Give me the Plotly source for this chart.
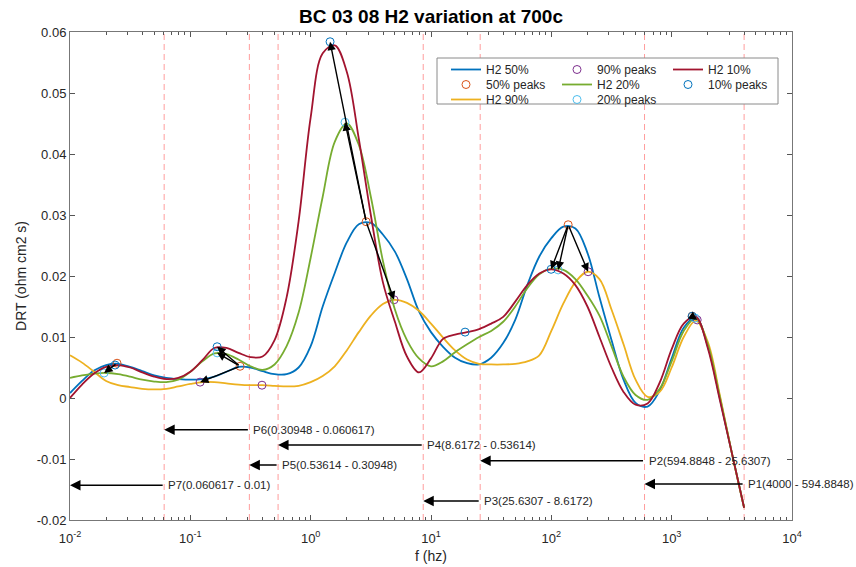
import math
import plotly.graph_objects as go

# ---------------- data ----------------
freq_hz = [0.01, 0.01259, 0.01585, 0.01995, 0.02512, 0.03162, 0.03981, 0.05012, 0.0631, 0.07943,
           0.1, 0.1259, 0.1585, 0.1995, 0.2512, 0.3162, 0.3981, 0.5012, 0.631, 0.7943,
           1.0, 1.259, 1.585, 1.995, 2.512, 3.162, 3.981, 5.012, 6.31, 7.943,
           10.0, 12.59, 15.85, 19.95, 25.12, 31.62, 39.81, 50.12, 63.1, 79.43,
           100.0, 125.9, 158.5, 199.5, 251.2, 316.2, 398.1, 501.2, 631.0, 794.3,
           1000.0, 1259.0, 1585.0, 1995.0, 2512.0, 3162.0, 4000.0]

drt_h2_50 = [0.0008, 0.0028, 0.0045, 0.0054, 0.0056, 0.0051, 0.0044, 0.0037, 0.0033, 0.0031,
             0.0030, 0.0031, 0.0035, 0.0043, 0.0051, 0.0050, 0.0044, 0.0039, 0.0039, 0.0050,
             0.0085, 0.0150, 0.0205, 0.0255, 0.0285, 0.0287, 0.0268, 0.0240, 0.0195, 0.0142,
             0.0108, 0.0084, 0.0066, 0.0057, 0.0055, 0.0066, 0.0090, 0.0128, 0.0185, 0.0232,
             0.0262, 0.0281, 0.0278, 0.0238, 0.0165, 0.0095, 0.0030, -0.0008, -0.0014, 0.0012,
             0.0065, 0.0115, 0.0132, 0.0085, 0.0000, -0.0090, -0.0180]

drt_h2_90 = [0.0070, 0.0058, 0.0043, 0.0028, 0.0021, 0.0018, 0.0015, 0.0014, 0.0015, 0.0019,
             0.0023, 0.0026, 0.0026, 0.0024, 0.0022, 0.0021, 0.0021, 0.0020, 0.0019, 0.0020,
             0.0026, 0.0036, 0.0052, 0.0078, 0.0108, 0.0135, 0.0154, 0.0161, 0.0156, 0.0143,
             0.0122, 0.0099, 0.0078, 0.0063, 0.0056, 0.0055, 0.0055, 0.0056, 0.0060, 0.0070,
             0.0110, 0.0155, 0.0190, 0.0207, 0.0195, 0.0145, 0.0088, 0.0030, 0.0002, 0.0010,
             0.0050, 0.0100, 0.0127, 0.0092, 0.0005, -0.0090, -0.0180]

drt_h2_20 = [0.0033, 0.0037, 0.0040, 0.0041, 0.0039, 0.0035, 0.0030, 0.0027, 0.0026, 0.0030,
             0.0043, 0.0060, 0.0073, 0.0072, 0.0063, 0.0052, 0.0046, 0.0055, 0.0085, 0.0140,
             0.0230, 0.0330, 0.0420, 0.0450, 0.0415, 0.0330, 0.0225, 0.0145, 0.0095, 0.0065,
             0.0052, 0.0060, 0.0075, 0.0088, 0.0100, 0.0110, 0.0125, 0.0150, 0.0180, 0.0203,
             0.0212, 0.0210, 0.0195, 0.0168, 0.0135, 0.0085, 0.0035, 0.0005, -0.0003, 0.0015,
             0.0060, 0.0110, 0.0131, 0.0088, 0.0002, -0.0090, -0.0180]

drt_h2_10 = [0.0000, 0.0022, 0.0040, 0.0051, 0.0054, 0.0050, 0.0042, 0.0035, 0.0031, 0.0033,
             0.0043, 0.0062, 0.0082, 0.0082, 0.0074, 0.0067, 0.0068, 0.0095, 0.0165, 0.0290,
             0.0460, 0.0565, 0.0578, 0.0535, 0.0425, 0.0300, 0.0190, 0.0125, 0.0068, 0.0042,
             0.0065, 0.0097, 0.0104, 0.0108, 0.0113, 0.0122, 0.0133, 0.0158, 0.0185, 0.0204,
             0.0211, 0.0204, 0.0185, 0.0150, 0.0100, 0.0050, 0.0010, -0.0011, -0.0009, 0.0025,
             0.0080, 0.0122, 0.0133, 0.0082, -0.0003, -0.0090, -0.0180]

peaks_50_f = [0.0246, 0.259, 2.89, 138.0, 1480.0]
peaks_50_v = [0.0057, 0.0052, 0.0289, 0.0284, 0.0134]
peaks_90_f = [0.1205, 0.394, 4.93, 202.0, 1630.0]
peaks_90_v = [0.0026, 0.0021, 0.0161, 0.0207, 0.0128]
peaks_20_f = [0.0192, 0.167, 1.93, 114.0, 1567.0]
peaks_20_v = [0.0041, 0.0074, 0.0452, 0.0210, 0.0131]
peaks_10_f = [0.0237, 0.167, 1.449, 19.2, 99.6, 1480.0]
peaks_10_v = [0.0054, 0.0084, 0.0584, 0.0108, 0.0211, 0.0134]

# arrows from each 50% peak to matching peaks of the other series (series, index)
peak_links = [
    (0, [("20", 0), ("10", 0)]),
    (1, [("90", 0), ("20", 1), ("10", 1)]),
    (2, [("90", 2), ("20", 2), ("10", 2)]),
    (3, [("90", 3), ("20", 3), ("10", 4)]),
    (4, [("90", 4), ("20", 4), ("10", 5)]),
]

boundaries_hz = [0.060617, 0.30948, 0.53614, 8.6172, 25.6307, 594.8848, 4000.0]
proc_labels = ["P1(4000 - 594.8848)", "P2(594.8848 - 25.6307)", "P3(25.6307 - 8.6172)",
               "P4(8.6172 - 0.53614)", "P5(0.53614 - 0.30948)", "P6(0.30948 - 0.060617)",
               "P7(0.060617 - 0.01)"]
proc_from_hz = [4000.0, 594.8848, 25.6307, 8.6172, 0.53614, 0.30948, 0.060617]
proc_to_hz = [594.8848, 25.6307, 8.6172, 0.53614, 0.30948, 0.060617, 0.01]
proc_y = [-0.0141, -0.0103, -0.0169, -0.0077, -0.0110, -0.0052, -0.0143]

y_ticks = [-0.02, -0.01, 0, 0.01, 0.02, 0.03, 0.04, 0.05, 0.06]
y_ticktext = ["-0.02", "-0.01", "0", "0.01", "0.02", "0.03", "0.04", "0.05", "0.06"]
x_ticks = [0.01, 0.1, 1, 10, 100, 1000, 10000]
x_ticktext = ["10<sup>-2</sup>", "10<sup>-1</sup>", "10<sup>0</sup>", "10<sup>1</sup>",
              "10<sup>2</sup>", "10<sup>3</sup>", "10<sup>4</sup>"]

# ---------------- styling ----------------
C_BLUE = "#0072BD"
C_ORANGE = "#D95319"
C_YELLOW = "#EDB120"
C_PURPLE = "#7E2F8E"
C_GREEN = "#77AC30"
C_CYAN = "#4DBEEE"
C_RED = "#A2142F"
FONT = "Liberation Sans, Arial, sans-serif"

fig = go.Figure()

def add_line(y, name, color, legend):
    fig.add_trace(go.Scatter(x=freq_hz, y=y, mode="lines", name=name, legend=legend,
                             line=dict(color=color, width=1.8, shape="spline", smoothing=1.0)))

def add_peaks(fx, fy, name, color, legend):
    fig.add_trace(go.Scatter(x=fx, y=fy, mode="markers", name=name, legend=legend,
                             marker=dict(symbol="circle-open", size=8, color=color,
                                         line=dict(width=1, color=color))))

add_line(drt_h2_50, "H2 50%", C_BLUE, "legend")
add_peaks(peaks_50_f, peaks_50_v, "50% peaks", C_ORANGE, "legend2")
add_line(drt_h2_90, "H2 90%", C_YELLOW, "legend3")
add_peaks(peaks_90_f, peaks_90_v, "90% peaks", C_PURPLE, "legend")
add_line(drt_h2_20, "H2 20%", C_GREEN, "legend2")
add_peaks(peaks_20_f, peaks_20_v, "20% peaks", C_CYAN, "legend3")
add_line(drt_h2_10, "H2 10%", C_RED, "legend")
add_peaks(peaks_10_f, peaks_10_v, "10% peaks", C_BLUE, "legend2")

# vertical boundaries
for b in boundaries_hz:
    fig.add_shape(type="line", xref="x", yref="paper", x0=b, x1=b, y0=0, y1=1,
                  line=dict(color="rgba(255,60,60,0.5)", width=1, dash="6px,4px"), layer="below")

annotations = []
# peak shift arrows
peak_sets = {"90": (peaks_90_f, peaks_90_v), "20": (peaks_20_f, peaks_20_v), "10": (peaks_10_f, peaks_10_v)}
for i50, targets in peak_links:
    for key, j in targets:
        tf, tv = peak_sets[key]
        annotations.append(dict(x=math.log10(tf[j]), y=tv[j], xref="x", yref="y",
                                ax=math.log10(peaks_50_f[i50]), ay=peaks_50_v[i50],
                                axref="x", ayref="y", text="", showarrow=True,
                                arrowhead=2, arrowsize=1.2, arrowwidth=1.4, arrowcolor="black",
                                standoff=0, startstandoff=0))

# process arrows and labels
for lab, f0, f1, yv in zip(proc_labels, proc_from_hz, proc_to_hz, proc_y):
    annotations.append(dict(x=math.log10(f1), y=yv, xref="x", yref="y",
                            ax=math.log10(f0), ay=yv, axref="x", ayref="y",
                            text="", showarrow=True, arrowhead=2, arrowsize=1.4,
                            arrowwidth=1.5, arrowcolor="black", standoff=0))
    annotations.append(dict(x=math.log10(f0), y=yv, xref="x", yref="y", text=lab,
                            showarrow=False, xanchor="left", yanchor="middle", xshift=2,
                            font=dict(family=FONT, size=11.5, color="#262626")))

minor_vals = []
for d in range(-2, 4):
    for m in range(2, 10):
        minor_vals.append(m * 10 ** d)

fig.add_shape(type="rect", xref="paper", yref="paper",
              x0=(437 - 70) / 722, x1=(778 - 70) / 722,
              y0=1 - (104 - 32) / 488, y1=1 - (58 - 32) / 488,
              fillcolor="white", line=dict(color="#8a8a8a", width=1), layer="above")

leg_common = dict(orientation="h", xanchor="left", yanchor="top", entrywidth=66,
                  entrywidthmode="pixels", bgcolor="rgba(0,0,0,0)", borderwidth=0,
                  font=dict(family=FONT, size=12, color="#262626"), tracegroupgap=0)
leg_x = (446 - 70) / 722

fig.update_layout(
    width=856, height=567,
    margin=dict(l=70, r=64, t=32, b=47),
    paper_bgcolor="white", plot_bgcolor="white",
    font=dict(family=FONT, size=12, color="#262626"),
    title=dict(text="<b>BC 03 08 H2 variation at 700c</b>", x=(70 + 792) / 2 / 856, xanchor="center",
               y=1 - 16 / 567, yanchor="middle", yref="container",
               font=dict(family=FONT, size=19, color="black")),
    xaxis=dict(type="log", range=[-2, 4], tickvals=x_ticks, ticktext=x_ticktext,
               ticks="inside", ticklen=5, tickcolor="#555", showline=True, linecolor="#777",
               linewidth=1, mirror="ticks", showgrid=False, zeroline=False,
               ticklabelstandoff=6, automargin=False,
               tickfont=dict(family=FONT, size=13, color="#262626"),
               minor=dict(tickvals=minor_vals, ticks="inside", ticklen=3, tickcolor="#555", showgrid=False),
               title=dict(text="f (hz)", font=dict(family=FONT, size=14, color="#262626"), standoff=6)),
    yaxis=dict(range=[-0.02, 0.06], tickvals=y_ticks, ticktext=y_ticktext,
               ticks="inside", ticklen=5, tickcolor="#555", showline=True, linecolor="#777",
               linewidth=1, mirror="ticks", showgrid=False, zeroline=False, automargin=False,
               tickfont=dict(family=FONT, size=13, color="#262626"),
               title=dict(text="DRT (ohm cm2 s)", font=dict(family=FONT, size=14, color="#262626"), standoff=6)),
    legend=dict(x=leg_x, y=1 - (55 - 32) / 488, **leg_common),
    legend2=dict(x=leg_x, y=1 - (70 - 32) / 488, **leg_common),
    legend3=dict(x=leg_x, y=1 - (85 - 32) / 488, **leg_common),
    annotations=annotations,
    showlegend=True,
)

fig.write_html("out.html")
